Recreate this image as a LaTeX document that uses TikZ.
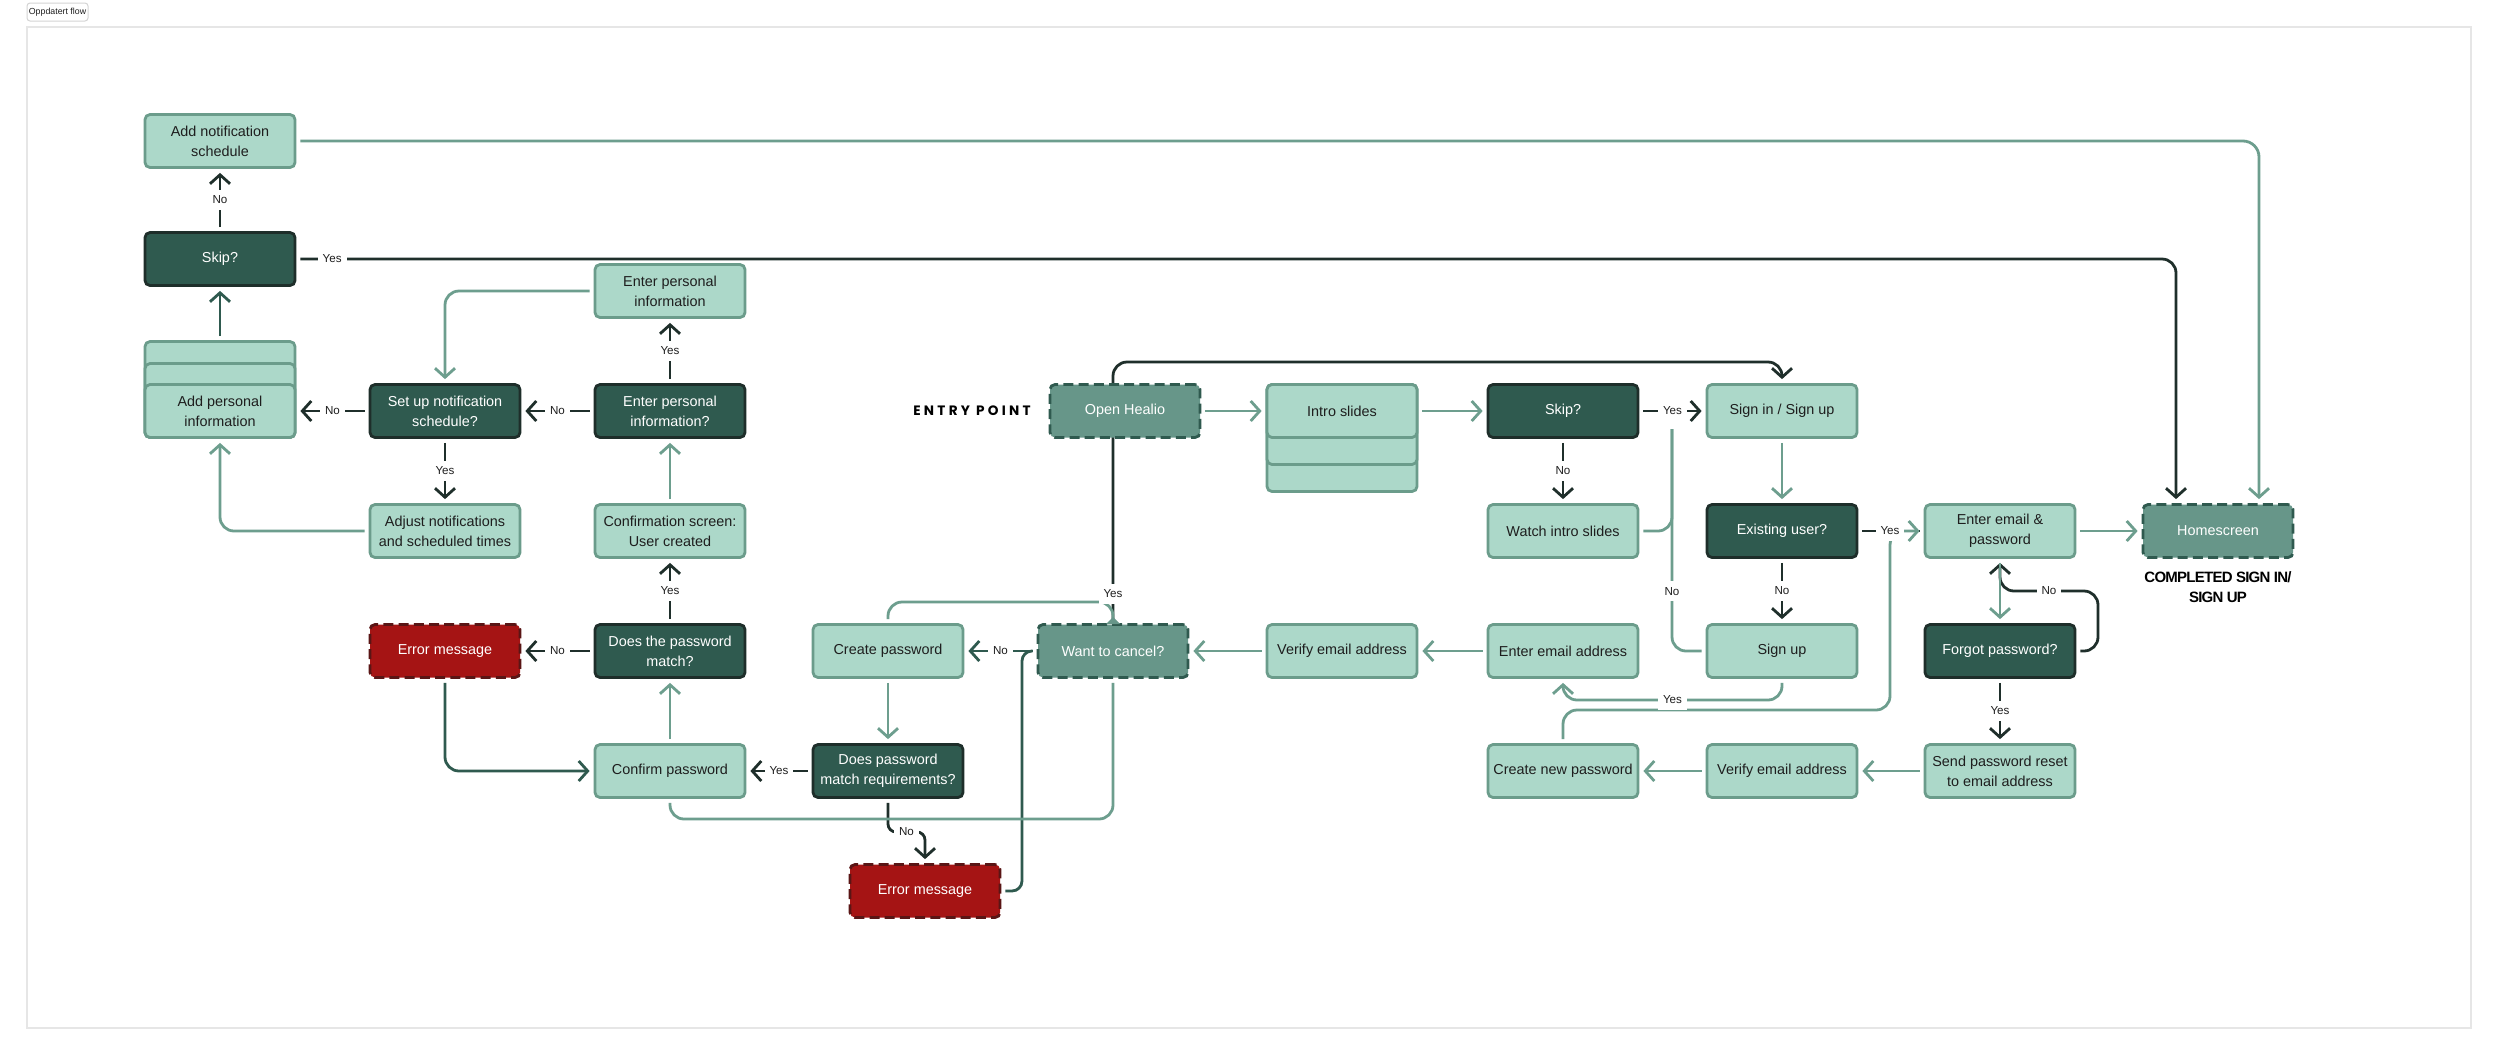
\documentclass[tikz,border=0pt]{standalone}
\usepackage{fontspec}
\setmainfont{Liberation Sans}
\newfontfamily\entryfnt[LetterSpace=24]{Poppins}
\newfontfamily\complfnt[LetterSpace=-5]{Liberation Sans}
\usetikzlibrary{arrows.meta,calc}
\pgfdeclarelayer{background}
\pgfdeclarelayer{bottom}
\pgfsetlayers{bottom,background,main}
\definecolor{lfill}{HTML}{ACD8C9}
\definecolor{lborder}{HTML}{6B9C8B}
\definecolor{dfill}{HTML}{2F5A4F}
\definecolor{dborder}{HTML}{1E2E2A}
\definecolor{mfill}{HTML}{679689}
\definecolor{rfill}{HTML}{A51414}
\definecolor{rborder}{HTML}{5A1515}
\definecolor{gline}{HTML}{6D9E8E}
\definecolor{dline}{HTML}{1F2F2B}
\definecolor{tcol}{HTML}{1E1E1E}
\definecolor{framecol}{HTML}{E6E6E6}
\definecolor{btncol}{HTML}{D4D4D4}
\newcommand\bxfont{\fontsize{7.2pt}{10pt}\selectfont}
\newcommand\lbfont{\fontsize{5.8pt}{7pt}\selectfont}
\begin{document}
\begin{tikzpicture}[x=0.5pt,y=-0.5pt,
  boxbase/.style={rounded corners=2.5pt, line width=1.4pt, minimum width=75pt, minimum height=26.5pt, align=center, inner sep=1pt, font=\bxfont},
  lightbox/.style={boxbase, fill=lfill, draw=lborder, text=tcol},
  darkbox/.style={boxbase, fill=dfill, draw=dborder, text=white},
  medbox/.style={boxbase, fill=mfill, draw=dfill, dash pattern=on 5pt off 2.6pt, text=white},
  redbox/.style={boxbase, fill=rfill, draw=rborder, dash pattern=on 5pt off 2.6pt, text=white},
  conn/.style={line width=1.4pt, rounded corners=7pt, shorten <=2pt, shorten >=2pt},
  arw/.style={-{Straight Barb[length=4.5pt,width=10pt]}},
  gc/.style={conn, draw=gline},
  dc/.style={conn, draw=dline},
  dgc/.style={conn, draw=dfill},
  lbl/.style={fill=white, inner xsep=2.5pt, inner ysep=3pt, text=tcol, font=\lbfont, rounded corners=0pt},
]
\useasboundingbox (0,0) rectangle (2500,1056);
\begin{pgfonlayer}{bottom}
\fill[white] (0,0) rectangle (2500,1056);
\draw[framecol, line width=0.8pt] (27,27) rectangle (2471,1028);
\end{pgfonlayer}
\node[draw=btncol, fill=white, line width=0.5pt, rounded corners=1.5pt, minimum width=30.5pt, minimum height=9pt, inner sep=0pt, text=tcol, font=\fontsize{4.4pt}{5pt}\selectfont] (btn) at (57.5,12) {Oppdatert flow};

% ---------- nodes ----------
\node[lightbox] (addnotif) at (220,141) {Add notification\\schedule};
\node[darkbox] (skipA) at (220,259) {Skip?};
\node[lightbox] (enterpi) at (670,291) {Enter personal\\information};
\node[lightbox, minimum height=48pt] (addpiback) at (220,389.5) {};
\node[lightbox, minimum height=37pt] (addpimid) at (220,400.5) {};
\node[lightbox] (addpi) at (220,411) {Add personal\\information};
\node[darkbox] (setup) at (445,411) {Set up notification\\schedule?};
\node[darkbox] (enterpiq) at (670,411) {Enter personal\\information?};
\node[lightbox] (adjust) at (445,531) {Adjust notifications\\and scheduled times};
\node[lightbox] (confscr) at (670,531) {Confirmation screen:\\User created};
\node[redbox] (err1) at (445,651) {Error message};
\node[darkbox] (pwmatch) at (670,651) {Does the password\\match?};
\node[lightbox] (createpw) at (888,651) {Create password};
\node[medbox] (cancel) at (1113,651) {Want to cancel?};
\node[lightbox] (verify1) at (1342,651) {Verify email address};
\node[lightbox] (enteremail) at (1563,651) {Enter email address};
\node[lightbox] (signup) at (1782,651) {Sign up};
\node[darkbox] (forgot) at (2000,651) {Forgot password?};
\node[lightbox] (confirmpw) at (670,771) {Confirm password};
\node[darkbox] (pwreq) at (888,771) {Does password\\match requirements?};
\node[lightbox] (newpw) at (1563,771) {Create new password};
\node[lightbox] (verify2) at (1782,771) {Verify email address};
\node[lightbox] (sendreset) at (2000,771) {Send password reset\\to email address};
\node[redbox] (err2) at (925,891) {Error message};
\node[medbox] (open) at (1125,411) {Open Healio};
\node[lightbox, minimum height=53.5pt] (introback) at (1342,438) {};
\node[lightbox, minimum height=40pt] (intromid) at (1342,424.5) {};
\node[lightbox] (intro) at (1342,411) {Intro slides};
\node[darkbox] (skipG) at (1563,411) {Skip?};
\node[lightbox] (signin) at (1782,411) {Sign in / Sign up};
\node[lightbox] (watch) at (1563,531) {Watch intro slides};
\node[darkbox] (existing) at (1782,531) {Existing user?};
\node[lightbox] (enterep) at (2000,531) {Enter email \&\\password};
\node[medbox] (home) at (2218,531) {Homescreen};
\fill[mfill] (1106,624) -- (1113,617) -- (1120,624) -- cycle;

\node[text=black, font=\entryfnt\fontsize{6.8pt}{8pt}\selectfont\bfseries] (entry) at (972,411) {ENTRY POINT};
\node[text=black, align=center, font=\complfnt\fontsize{7.5pt}{10pt}\selectfont\bfseries] (completed) at (2218,587) {COMPLETED SIGN IN/\\SIGN UP};

% ---------- connectors ----------
\begin{pgfonlayer}{background}
\draw[dc,arw] (skipA.north) -- node[lbl]{No} (addnotif.south);
\draw[dgc,arw] (addpiback.north) -- (skipA.south);
\draw[dc,arw] (skipA.east) -- node[lbl,pos=0.019]{Yes} (2176,259) -- ([xshift=-21pt]home.north);
\draw[gc,arw,rounded corners=8pt] (addnotif.east) -- (2259,141) -- ([xshift=20.5pt]home.north);
\draw[gc,arw] (enterpi.west) -| (setup.north);
\draw[dc,arw] (enterpiq.north) -- node[lbl]{Yes} (enterpi.south);
\draw[dc,arw] (enterpiq.west) -- node[lbl]{No} (setup.east);
\draw[dc,arw] (setup.west) -- node[lbl]{No} (addpi.east);
\draw[dc,arw] (setup.south) -- node[lbl]{Yes} (adjust.north);
\draw[gc,arw] (adjust.west) -| (addpi.south);
\draw[gc,arw] (confscr.north) -- (enterpiq.south);
\draw[dc,arw] (pwmatch.north) -- node[lbl]{Yes} (confscr.south);
\draw[dc,arw] (pwmatch.west) -- node[lbl]{No} (err1.east);
\draw[dgc,arw] (err1.south) |- (confirmpw.west);
\draw[gc,arw] (confirmpw.north) -- (pwmatch.south);
\draw[dc,arw] (pwreq.west) -- node[lbl]{Yes} (confirmpw.east);
\draw[gc,arw] (createpw.south) -- (pwreq.north);
\draw[dc,arw,rounded corners=4pt] (pwreq.south) -- (888,832) -- node[lbl]{No} (925,832) -- (err2.north);
\draw[dgc,rounded corners=5pt] (err2.east) -- (1022,891) -- (1022,651) -- (cancel.west);
\draw[dgc,arw] (cancel.west) -- node[lbl]{No} (createpw.east);
\draw[gc] (cancel.south) -- (1113,819) -- (670,819) -- (confirmpw.south);
\draw[dc,arw] (cancel.north) -- (1113,362) -- (1782,362) -- (signin.north);
\draw[gc] (cancel.north) -- (1113,602) -- (888,602) -- (createpw.north);
\node[lbl] (yescancel) at (1113,594) {Yes};

\draw[gc,arw] (open.east) -- (intro.west);
\draw[gc,arw] (intro.east) -- (skipG.west);
\draw[dc,arw] (skipG.east) -- node[lbl]{Yes} (signin.west);
\draw[dc,arw] (skipG.south) -- node[lbl]{No} (watch.north);
\coordinate (jn) at (1672,425);
\draw[gc] (watch.east) -- (1672,531) -- (jn);
\draw[gc] (jn) -- node[lbl,pos=0.735]{No} (1672,651) -- (signup.west);
\draw[gc,arw] (signin.south) -- (existing.north);
\draw[dc,arw] (existing.south) -- node[lbl]{No} (signup.north);
\draw[dc] (existing.east) -- (enterep.west);
\draw[gc,arw] (newpw.north) -- (1563,710) -- (1890,710) -- (1890,531) -- (enterep.west);
\node[lbl] (yesexist) at (1890,531) {Yes};
\draw[gc,arw] (enterep.east) -- (home.west);
\draw[dc,arw] (forgot.east) -- (2098,651) -- (2098,591) -- node[lbl]{No} (2000,591) -- (enterep.south);
\draw[gc,arw] (enterep.south) -- (forgot.north);
\draw[dc,arw] (forgot.south) -- node[lbl]{Yes} (sendreset.north);
\draw[gc,arw] (sendreset.west) -- (verify2.east);
\draw[gc,arw] (verify2.west) -- (newpw.east);
\draw[gc,arw] (signup.south) -- (1782,700) -- node[lbl]{Yes} (1563,700) -- (enteremail.south);
\draw[gc,arw] (enteremail.west) -- (verify1.east);
\draw[gc,arw] (verify1.west) -- (cancel.east);
\end{pgfonlayer}
\end{tikzpicture}
\end{document}
